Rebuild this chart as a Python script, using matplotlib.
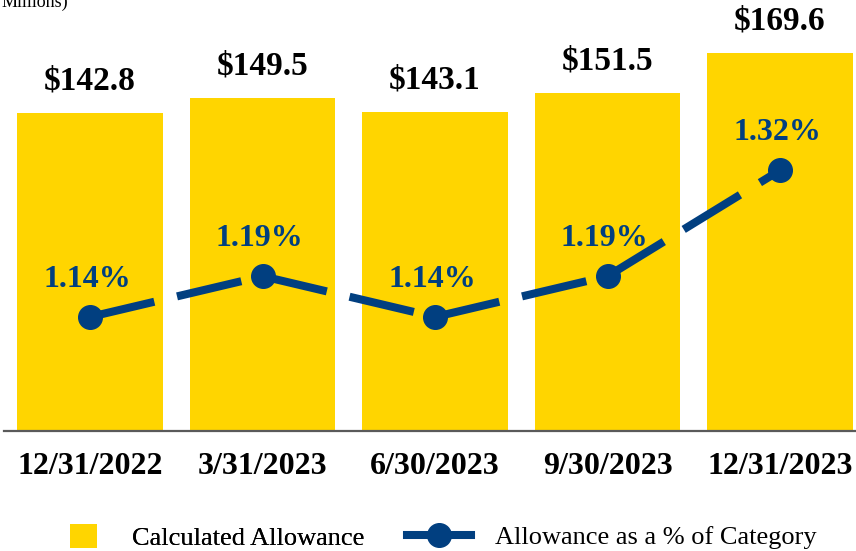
import matplotlib.pyplot as plt
from matplotlib.lines import Line2D
from matplotlib.patches import Patch
import numpy as np

plt.rcParams['font.family'] = ['Liberation Serif', 'DejaVu Serif']

# data
dates = ['12/31/2022', '3/31/2023', '6/30/2023', '9/30/2023', '12/31/2023']
allowance = [142.8, 149.5, 143.1, 151.5, 169.6]
pct = [1.14, 1.19, 1.14, 1.19, 1.32]

YELLOW = '#FFD500'
BLUE = '#013F80'

fig = plt.figure(figsize=(8.56, 5.51), dpi=100)
ax = fig.add_axes([3.75 / 856, 120 / 551, 862.5 / 856, 431 / 551])
x = np.arange(len(dates))

ax.bar(x, allowance, width=0.846, color=YELLOW, zorder=2)
for xi, v in zip(x, allowance):
    ax.annotate(f'${v:.1f}', (xi, v), xytext=(0, 23), textcoords='offset points',
                ha='center', va='center', fontsize=24, fontweight='bold', color='black')

ax.set_xlim(-0.5, 4.5)
ax.set_ylim(0, 193.4)
ax.set_xticks(x)
ax.set_xticklabels(dates, fontsize=23, fontweight='bold')
ax.tick_params(axis='x', length=0, pad=15)
ax.set_yticks([])
for s in ['top', 'left', 'right']:
    ax.spines[s].set_visible(False)
ax.spines['bottom'].set_color('#5a5a5a')
ax.spines['bottom'].set_linewidth(1.6)

# percent line on secondary axis
ax2 = ax.twinx()
ax2.set_ylim(1.0, 1.529)
ax2.set_yticks([])
for s in ax2.spines.values():
    s.set_visible(False)
for i in range(len(x) - 1):
    ax2.plot(x[i:i + 2], pct[i:i + 2], color=BLUE, lw=5.8, dashes=(8.2, 2.9),
             dash_capstyle='butt', solid_capstyle='butt', zorder=3)
ax2.plot(x, pct, 'o', color=BLUE, markersize=17, zorder=4)
for xi, p in zip(x, pct):
    ax2.annotate(f'{p:.2f}%', (xi, p), xytext=(-2, 27), textcoords='offset points',
                 ha='center', va='center', fontsize=23, fontweight='bold', color=BLUE)

fig.text(68 / 856, 1 - 2 / 551, 'Millions)', ha='right', va='center', fontsize=13)

# legends
leg1 = fig.legend(handles=[Patch(facecolor=YELLOW, edgecolor='none')],
                  labels=['Calculated Allowance'], loc='center left',
                  bbox_to_anchor=(70 / 856, 14 / 551), frameon=False, fontsize=19,
                  handlelength=1.02, handleheight=1.0, handletextpad=1.33,
                  borderpad=0, borderaxespad=0)
leg2 = fig.legend(handles=[Line2D([0], [0], color=BLUE, lw=5.8, marker='o', markersize=17)],
                  labels=['Allowance as a % of Category'], loc='center left',
                  bbox_to_anchor=(407 / 856, 14 / 551), frameon=False, fontsize=19,
                  handlelength=2.42, handletextpad=0.9, borderpad=0, borderaxespad=0)
fig.add_artist(leg1)

fig.savefig('out.png', dpi=100)
